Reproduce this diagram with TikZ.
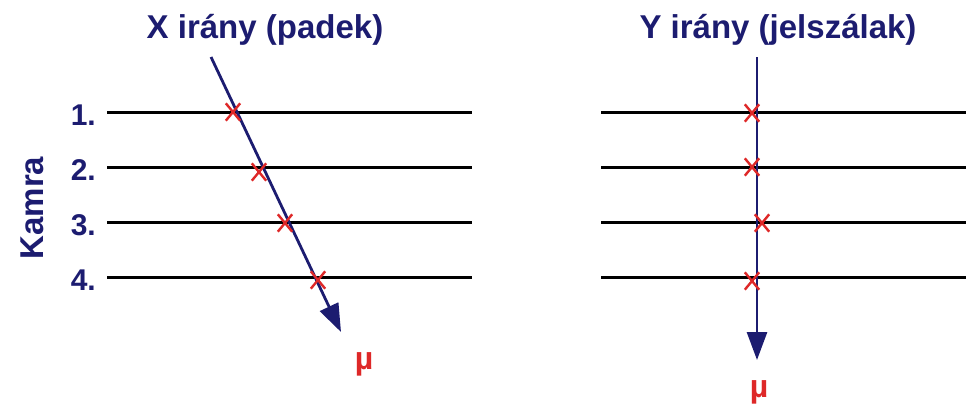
\documentclass[tikz,border=0pt]{standalone}
\usepackage{fontspec}
\setmainfont{Liberation Sans}
\usepackage{tikz}
\usetikzlibrary{shapes.misc, positioning, arrows.meta, calc}

\definecolor{navy}{RGB}{28,28,112}
\definecolor{hitred}{RGB}{222,40,40}

\begin{document}
\begin{tikzpicture}[x=1pt, y=-1pt, >={Triangle[length=28pt,width=20pt]},
    title/.style={font=\bfseries\fontsize{33}{38}\selectfont, text=navy, inner sep=0pt},
    num/.style={font=\bfseries\fontsize{30}{34}\selectfont, text=navy, inner sep=0pt, anchor=east},
    muon/.style={font=\bfseries\fontsize{32}{36}\selectfont, text=hitred, inner sep=0pt},
    plane/.style={line width=3pt, black},
    track/.style={->, line width=2.8pt, navy},
    hit/.style={cross out, draw=hitred, line width=2.4pt, minimum width=12pt, minimum height=15pt, inner sep=0pt}]
    \useasboundingbox (0,0) rectangle (966,408);

    % titles
    \node[title] (tx) at (265,30) {X irány (padek)};
    \node[title] (ty) at (778,30) {Y irány (jelszálak)};
    \node[title, rotate=90] (kamra) at (32,208) {Kamra};

    % chamber planes
    \foreach \i/\y in {1/112, 2/167, 3/222, 4/277} {
        \node[num] (n\i) at (96,\y+3) {\i.};
        \coordinate (xl\i) at (107,\y);
        \coordinate (xr\i) at (472,\y);
        \coordinate (yl\i) at (601,\y);
        \coordinate (yr\i) at (966,\y);
        \draw[plane] (xl\i) -- (xr\i);
        \draw[plane] (yl\i) -- (yr\i);
    }

    % X track
    \coordinate (xs) at (211,57);
    \coordinate (xe) at (341,332);
    \draw[track] (xs) -- (xe);
    \node[hit] (hx1) at (233,112) {};
    \node[hit] (hx2) at (259,172) {};
    \node[hit] (hx3) at (285,223) {};
    \node[hit] (hx4) at (318,280) {};
    \node[muon] (mux) at (364,364) {µ};

    % Y track
    \coordinate (ys) at (757,57);
    \coordinate (ye) at (757,360);
    \draw[track] (ys) -- (ye);
    \node[hit] (hy1) at (752,113) {};
    \node[hit] (hy2) at (752,167) {};
    \node[hit] (hy3) at (762,223) {};
    \node[hit] (hy4) at (752,281) {};
    \node[muon] (muy) at (759,392) {µ};
\end{tikzpicture}
\end{document}
